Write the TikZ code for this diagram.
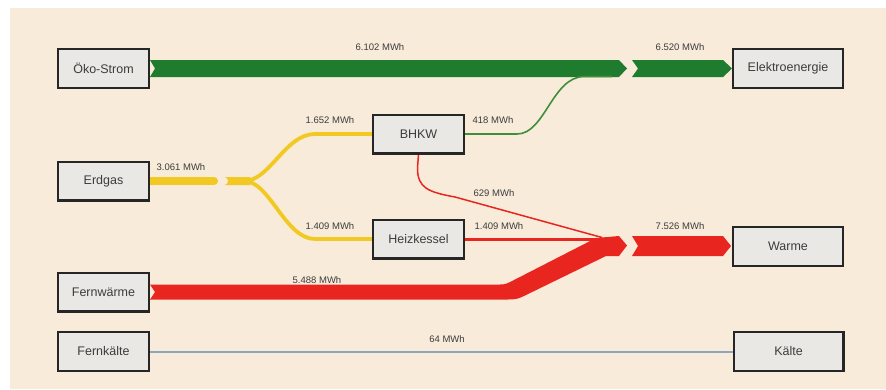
\documentclass[tikz,border=0pt]{standalone}
\usepackage{fontspec}
\setmainfont{Liberation Sans}
\usetikzlibrary{calc}
\definecolor{bgbeige}{HTML}{F8EBDA}
\definecolor{boxfill}{HTML}{E9E8E5}
\definecolor{boxline}{HTML}{262626}
\definecolor{txt}{HTML}{3C3C3C}
\definecolor{fgreen}{HTML}{1F7C2E}
\definecolor{lgreen}{HTML}{3E8E3A}
\definecolor{fyellow}{HTML}{F2C922}
\definecolor{fred}{HTML}{E8261F}
\definecolor{fblue}{HTML}{8DA6BD}
\pgfdeclarelayer{back}
\pgfdeclarelayer{flow}
\pgfsetlayers{back,flow,main}
\begin{document}
\begin{tikzpicture}[x=1pt,y=-1pt,
  box/.style={draw=boxline,line width=2.3pt,fill=boxfill,text=txt,
    font=\fontsize{12.5}{14}\selectfont,minimum height=38.7pt,inner sep=0pt},
  sbox/.style={box,minimum width=90.7pt},
  wbox/.style={box,minimum width=109.7pt},
  lab/.style={text=txt,font=\fontsize{9.5}{11}\selectfont,inner sep=0pt}]
\useasboundingbox (0,0) rectangle (886,389);
\begin{pgfonlayer}{back}
\fill[white] (0,0) rectangle (886,389);
\fill[bgbeige] (10,8) rectangle (886,389);
\end{pgfonlayer}
% nodes
\node[sbox] (oko) at (103.5,68.5) {Öko-Strom};
\node[wbox] (elek) at (788,68.5) {Elektroenergie};
\node[sbox] (erd) at (103.5,181) {Erdgas};
\node[sbox] (bhkw) at (418.5,134) {BHKW};
\node[sbox] (heiz) at (418.5,239) {Heizkessel};
\node[wbox] (waerme) at (788,246.5) {Warme};
\node[sbox] (fernw) at (103.5,292) {Fernwärme};
\node[sbox] (fernk) at (103.5,351.5) {Fernkälte};
\node[wbox] (kaelte) at (788.5,351.5) {Kälte};
\begin{pgfonlayer}{flow}
% green
\fill[fgreen] ($(oko.east)+(0,-8.5)$) -- (619,60) -- (627,68.5) -- (619,77) -- ($(oko.east)+(0,8.5)$) -- ($(oko.east)+(5,0)$) -- cycle;
\fill[fgreen] (632,60) -- (723,60) -- (elek.west) -- (723,77) -- (632,77) -- (638,68.5) -- cycle;
\draw[lgreen,line width=1.6pt] (bhkw.east) -- (517,134) .. controls (545,134) and (552,77) .. (584,76.5) -- (612,76.5);
% yellow
\draw[fyellow,line width=8pt,line cap=round] (erd.east) -- (214,181);
\fill[fyellow] (225,177) -- (250,177) -- (250,185) -- (225,185) .. controls (229,183.5) and (229,178.5) .. (225,177) -- cycle;
\draw[fyellow,line width=3.8pt] (244,181) .. controls (270,181) and (285,134) .. (315,134) -- (bhkw.west);
\draw[fyellow,line width=3.8pt] (244,181) .. controls (270,181) and (285,239) .. (315,239) -- (heiz.west);
% red
\draw[fred,line width=3pt] (heiz.east) -- (604,239);
\draw[fred,line width=1.5pt] (bhkw.south) -- (417.5,168) .. controls (417.5,188) and (428,192) .. (455,197) -- (602,237.5);
\fill[fred] ($(fernw.east)+(0,-7.5)$) -- (500,284.5) .. controls (506,284.5) and (508,283) .. (514,280) -- (596,238) -- (619,236) -- (627,245.5) -- (619,256) -- (606,256) -- (524,296) .. controls (518,299) and (515,299.5) .. (508,299.5) -- ($(fernw.east)+(0,7.5)$) -- ($(fernw.east)+(5,0)$) -- cycle;
\fill[fred] (632,236) -- (723,236) -- (731,246) -- (723,256) -- (632,256) -- (638,246) -- cycle;
% blue
\draw[fblue,line width=2pt] (fernk.east) -- (kaelte.west);
\end{pgfonlayer}
% labels
\node[lab] at (380,47) {6.102 MWh};
\node[lab] at (680,47) {6.520 MWh};
\node[lab] at (330,120) {1.652 MWh};
\node[lab] at (493,120) {418 MWh};
\node[lab] at (181,167) {3.061 MWh};
\node[lab] at (494,193) {629 MWh};
\node[lab] at (330,226) {1.409 MWh};
\node[lab] at (499,226) {1.409 MWh};
\node[lab] at (680,226) {7.526 MWh};
\node[lab] at (317,280) {5.488 MWh};
\node[lab] at (447,339) {64 MWh};
\end{tikzpicture}
\end{document}
